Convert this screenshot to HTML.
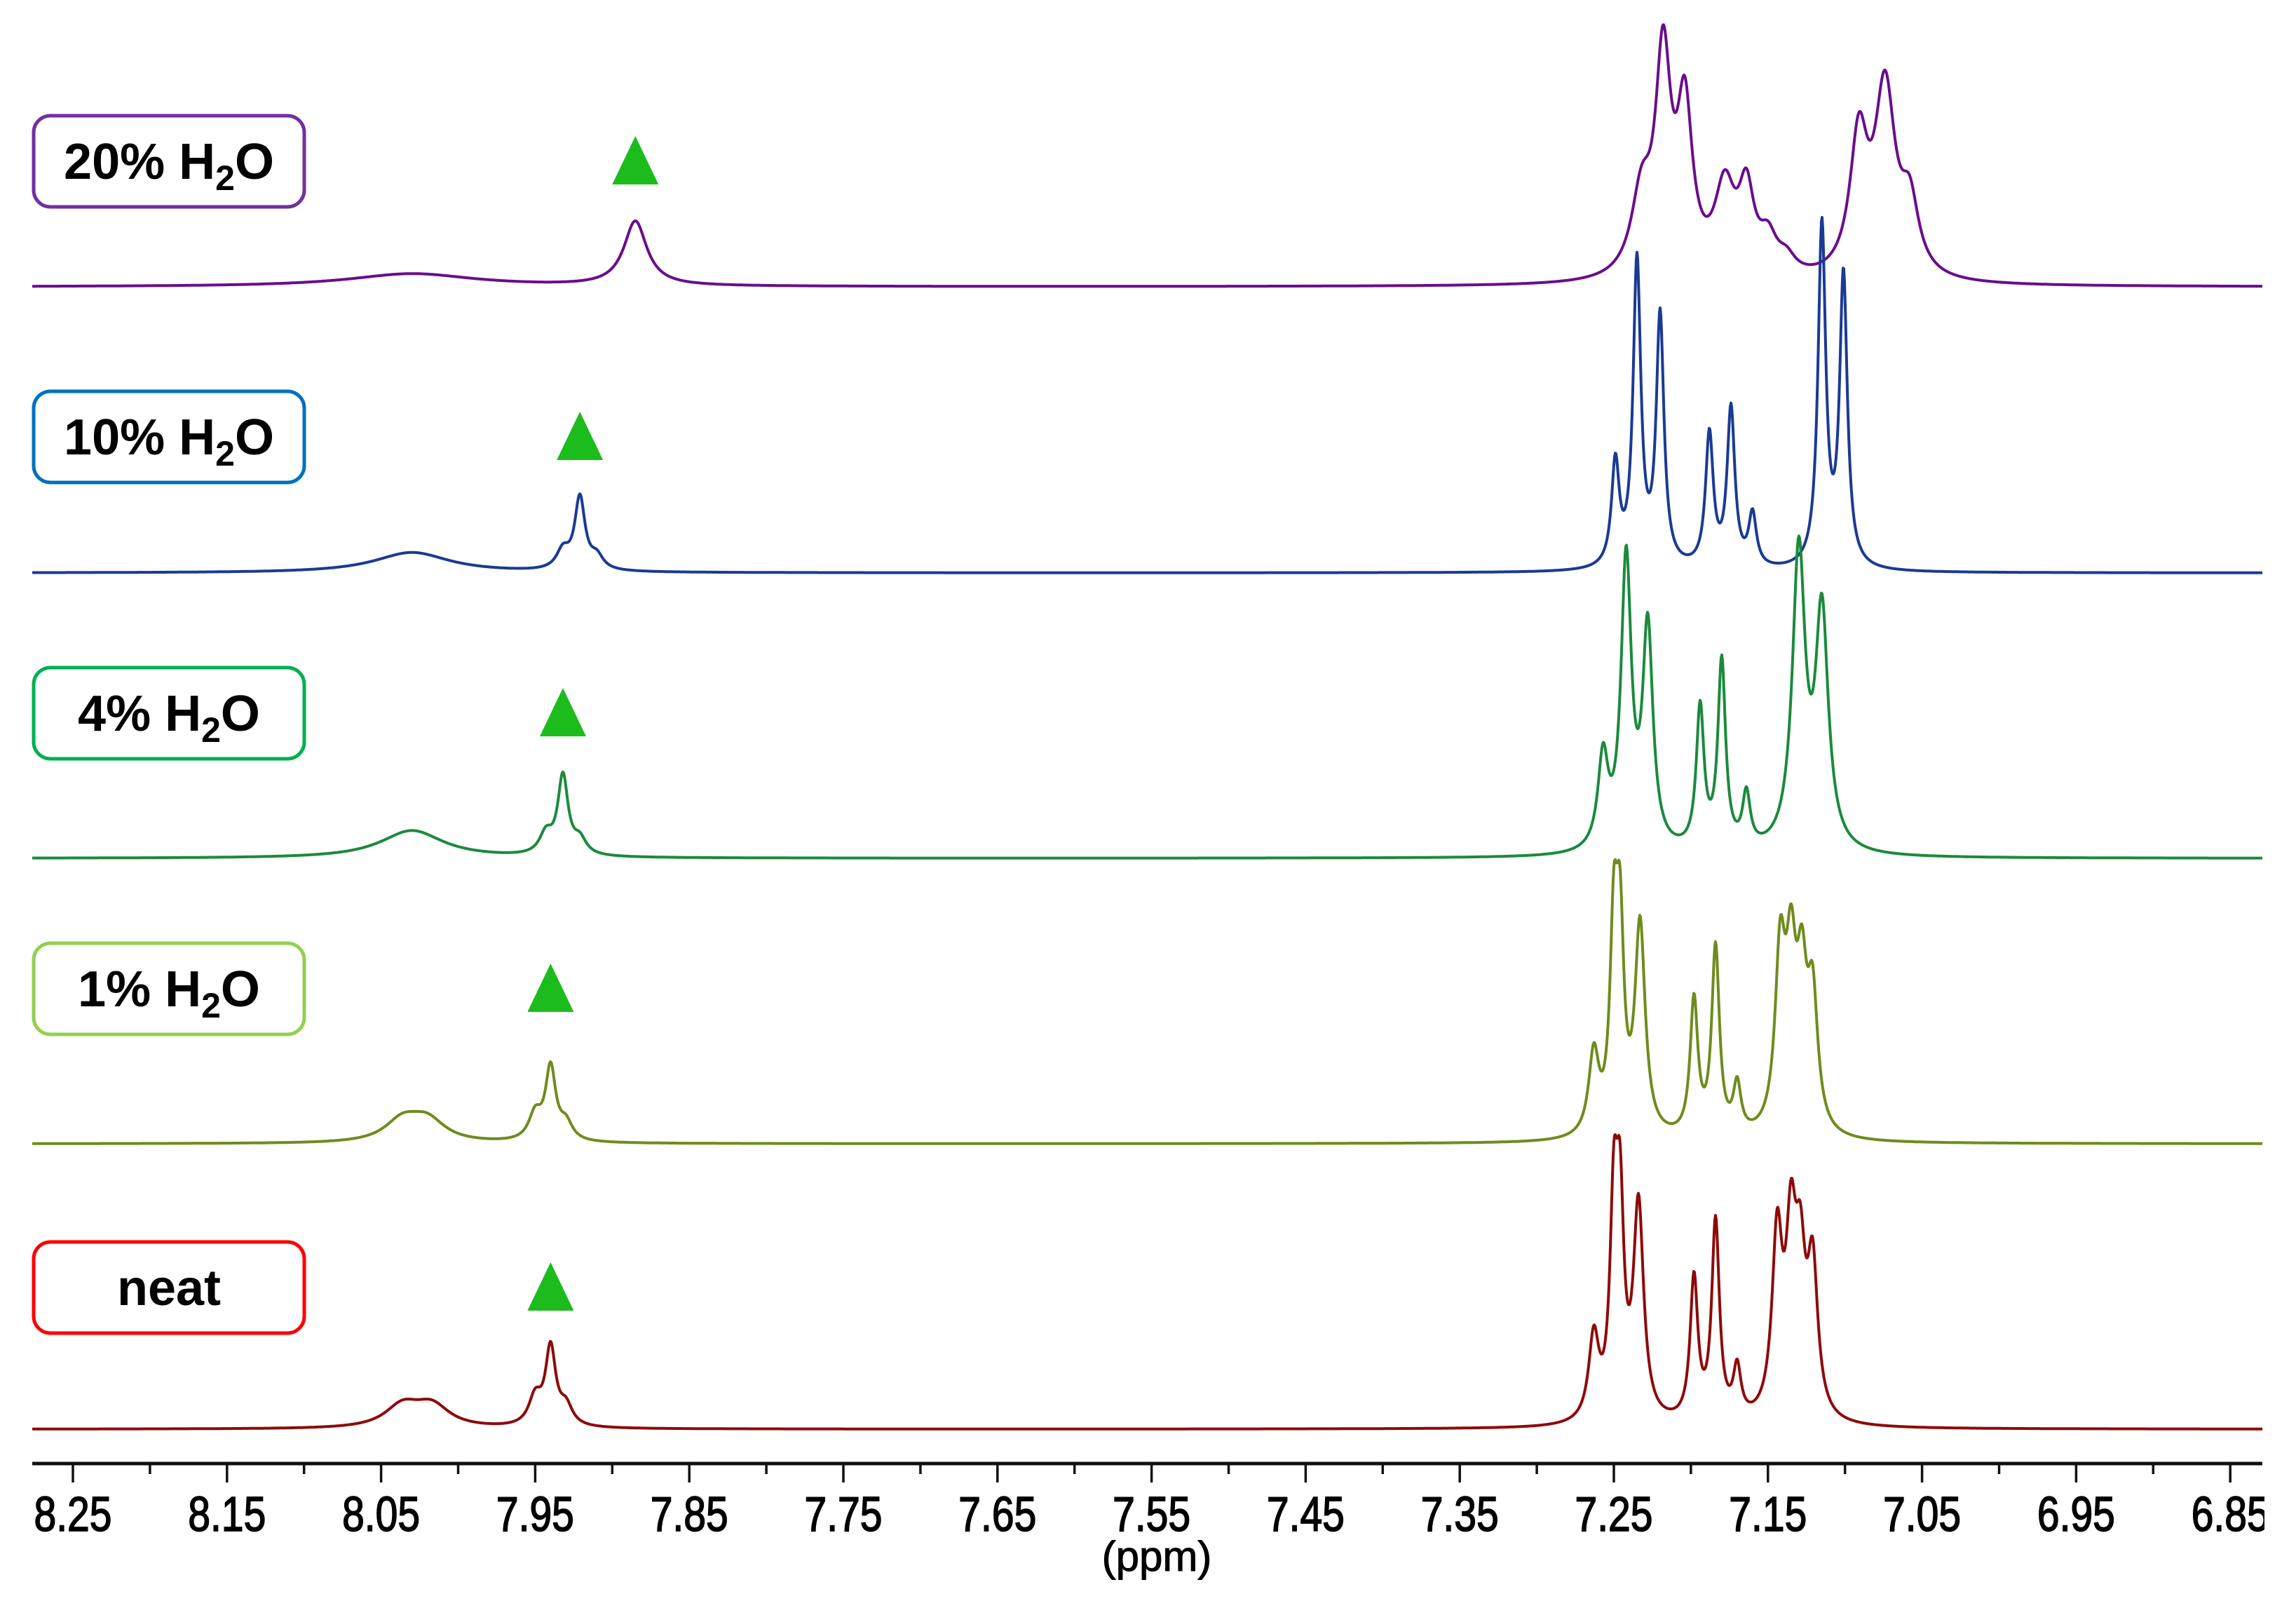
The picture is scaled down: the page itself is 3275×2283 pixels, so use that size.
<!DOCTYPE html>
<html><head><meta charset="utf-8"><style>
html,body{margin:0;padding:0;background:#fff;}
svg{display:block;}
text{font-family:"Liberation Sans",sans-serif;}
</style></head><body>
<svg id="chart" width="3275" height="2283" viewBox="0 0 3275 2283" xmlns="http://www.w3.org/2000/svg">
<g id="spectra"></g>
<g id="axis"></g>
<g id="labels"></g>
</svg>
<script>
// ---- data ----
const tickLabels = ["8.25","8.15","8.05","7.95","7.85","7.75","7.65","7.55","7.45","7.35","7.25","7.15","7.05","6.95","6.85"];
const seriesNames = ["20% H2O","10% H2O","4% H2O","1% H2O","neat"];
const seriesColors = ["#6a0d8c","#1a3a94","#1b8a3c","#6e8c1c","#8e0a0a"];
const boxColors = ["#7030a0","#0070c0","#00b050","#92d050","#ff0000"];
const markerPpm = [7.885, 7.921, 7.932, 7.940, 7.940];
// peak positions (ppm), target heights (baseline-relative, display units), half-widths (ppm)
const pos20 = [8.03, 7.885, 7.232, 7.218, 7.204, 7.178, 7.164, 7.150, 7.138, 7.091, 7.074, 7.058];
const amp20 = [9, 45, 83, 179, 144, 80, 81, 45, 28, 119, 148, 76];
const wid20 = [0.05, 0.009, 0.008, 0.006, 0.006, 0.008, 0.006, 0.007, 0.007, 0.007, 0.008, 0.007];
const pos10 = [8.03, 7.932, 7.921, 7.910, 7.249, 7.235, 7.220, 7.188, 7.174, 7.160, 7.115, 7.101];
const amp10 = [14, 20, 54, 16, 82, 219, 181, 99, 116, 44, 243, 209];
const wid10 = [0.03, 0.005, 0.004, 0.005, 0.003, 0.003, 0.003, 0.003, 0.003, 0.003, 0.003, 0.003];
const pos4 = [8.03, 7.943, 7.932, 7.921, 7.257, 7.242, 7.228, 7.194, 7.180, 7.164, 7.130, 7.115];
const amp4 = [19, 22, 59, 18, 79, 214, 168, 108, 139, 49, 220, 181];
const wid4 = [0.025, 0.005, 0.004, 0.005, 0.004, 0.004, 0.004, 0.003, 0.003, 0.003, 0.005, 0.005];
const pos1 = [8.036, 8.020, 7.950, 7.940, 7.930, 7.263, 7.250, 7.246, 7.233, 7.198, 7.184, 7.170, 7.142, 7.135, 7.128, 7.121];
const amp1 = [21, 21, 26, 56, 20, 69, 189, 189, 156, 103, 138, 46, 155, 164, 150, 123];
const wid1 = [0.014, 0.014, 0.005, 0.004, 0.005, 0.004, 0.003, 0.003, 0.004, 0.003, 0.003, 0.003, 0.004, 0.004, 0.004, 0.004];
const posN = [8.036, 8.017, 7.950, 7.940, 7.930, 7.263, 7.250, 7.246, 7.234, 7.198, 7.184, 7.170, 7.144, 7.135, 7.129, 7.121];
const ampN = [20, 20, 28, 60, 22, 71, 196, 196, 161, 108, 146, 48, 151, 171, 155, 131];
const widN = [0.014, 0.014, 0.005, 0.004, 0.005, 0.004, 0.003, 0.003, 0.004, 0.003, 0.003, 0.003, 0.004, 0.004, 0.004, 0.004];
const allPos = [pos20, pos10, pos4, pos1, posN];
const allAmp = [amp20, amp10, amp4, amp1, ampN];
const allWid = [wid20, wid10, wid4, wid1, widN];

// ---- layout ----
const S = 2.0886;
const baseY = [409, 817, 1224, 1631, 2038];
const boxY = [165, 558, 952, 1345, 1771];
const axisY = 2087;
function xOf(ppm){ return 104 + (8.25 - ppm) * 2198; }
const NS = "http://www.w3.org/2000/svg";
function mk(tag, attrs, parent){ const e = document.createElementNS(NS, tag); for (const k in attrs) e.setAttribute(k, attrs[k]); parent.appendChild(e); return e; }

// ---- spectra ----
const gS = document.getElementById('spectra');
function lor(p, c, w){ const d = (p - c) / w; return 1 / (1 + d * d); }
for (let s = 0; s < 5; s++) {
  const P = allPos[s], T = allAmp[s], W = allWid[s];
  let A = T.slice();
  for (let it = 0; it < 60; it++) {
    const nA = A.slice();
    for (let i = 0; i < P.length; i++) {
      let v = 0;
      for (let j = 0; j < P.length; j++) v += A[j] * lor(P[i], P[j], W[j]);
      nA[i] = Math.max(0, A[i] + 0.5 * (T[i] - v));
    }
    A = nA;
  }
  let d = "";
  for (let x = 46; x <= 3227; x += 1) {
    const ppm = 8.25 - (x - 104) / 2198;
    let v = 0;
    for (let j = 0; j < P.length; j++) v += A[j] * lor(ppm, P[j], W[j]);
    const y = baseY[s] - v * S;
    d += (x === 46 ? "M" : "L") + x + " " + y.toFixed(1);
  }
  const path = mk('path', {d: d, fill: 'none', stroke: seriesColors[s], 'stroke-width': 4, 'stroke-linejoin': 'round'}, gS);
  
  
}

// ---- axis ----
const gA = document.getElementById('axis');
const axl = mk('line', {x1: 46, x2: 3227, y1: axisY, y2: axisY, stroke: '#111', 'stroke-width': 5}, gA);


for (let i = 0; i < tickLabels.length; i++) {
  const v = parseFloat(tickLabels[i]);
  const x = xOf(v);
  const t = mk('line', {x1: x, x2: x, y1: axisY, y2: axisY + 27, stroke: '#111', 'stroke-width': 3.5}, gA);
  
  
  const mx = xOf(v - 0.05);
  if (mx < 3230) {
    const m = mk('line', {x1: mx, x2: mx, y1: axisY, y2: axisY + 15, stroke: '#111', 'stroke-width': 3.5}, gA);
    
    
  }
  if (i === 0) { const mx0 = xOf(v + 0.05); if (mx0 > 46) { const m0 = mk('line', {x1: mx0, x2: mx0, y1: axisY, y2: axisY + 15, stroke: '#111', 'stroke-width': 3.5}, gA);   } }
  const lb = mk('text', {x: x, y: 2183, 'text-anchor': 'middle', 'font-size': 62, fill: '#000', stroke: '#000', 'stroke-width': 1.5, transform: `translate(${x} 2183) scale(0.92 1.12) translate(${-x} -2183)`}, gA);
  lb.textContent = tickLabels[i];
  
  
}
const xt = mk('text', {x: 1650, y: 2240, 'text-anchor': 'middle', 'font-size': 60, fill: '#000', stroke: '#000', 'stroke-width': 1}, gA);
xt.textContent = "(ppm)";


const mask = mk('rect', {x: 3230, y: 2100, width: 45, height: 120, fill: '#fff'}, gA);



// ---- labels & markers ----
const gL = document.getElementById('labels');
for (let s = 0; s < 5; s++) {
  const g = mk('g', {}, gL);
  
  
  mk('rect', {x: 48, y: boxY[s], width: 386, height: 130, rx: 24, ry: 24, fill: '#fff', stroke: boxColors[s], 'stroke-width': 5}, g);
  const t = mk('text', {x: 241, y: boxY[s] + 90, 'text-anchor': 'middle', 'font-size': 72, 'font-weight': 'bold', fill: '#000'}, g);
  if (s === 4) { t.textContent = 'neat'; }
  else {
    const pct = seriesNames[s].split(' ')[0];
    t.appendChild(document.createTextNode(pct + ' H'));
    const sub = mk('tspan', {'font-size': 50, dy: 16}, t); sub.textContent = '2';
    const o = mk('tspan', {dy: -16}, t); o.textContent = 'O';
  }
  
  
  const cx = xOf(markerPpm[s]);
  const top = boxY[s] + 29, bot = boxY[s] + 98;
  const tri = mk('polygon', {points: `${cx},${top} ${cx - 33},${bot} ${cx + 33},${bot}`, fill: '#1cbc1c'}, gL);
  
  
}
</script>
</body></html>
